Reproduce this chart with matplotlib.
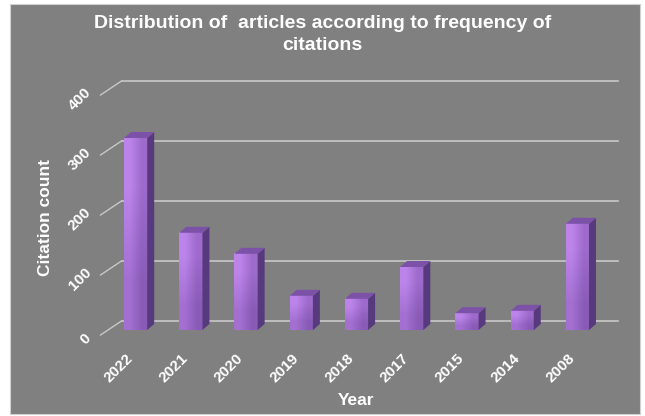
import matplotlib
matplotlib.use("Agg")
import matplotlib.pyplot as plt
import matplotlib.transforms as mtransforms
from matplotlib.patches import Polygon, Rectangle
import numpy as np

# data
years = ['2022', '2021', '2020', '2019', '2018', '2017', '2015', '2014', '2008']
citations = [320, 162, 127, 57, 52, 105, 28, 32, 177]
yticks = [0, 100, 200, 300, 400]

plt.rcParams['font.family'] = ['Liberation Sans', 'DejaVu Sans']

fig = plt.figure(figsize=(6.45, 4.16), dpi=100)
fig.patch.set_facecolor('white')
# gray chart area
fig.patches.append(Rectangle((10 / 645, 2 / 416), 630 / 645, 410 / 416, transform=fig.transFigure,
                             facecolor='#808080', edgecolor='#d0d0d0', lw=0.8, zorder=-5))

ax = fig.add_axes([108 / 645, 86 / 416, 497 / 645, 240 / 416])
ax.set_facecolor('none')
ax.set_xlim(-0.5, 8.5)
ax.set_ylim(0, 400)
for s in ax.spines.values():
    s.set_visible(False)


def off(dx, dy):
    return mtransforms.offset_copy(ax.transData, fig=fig, x=dx, y=dy, units='dots')


back = off(13.5, 9)
front = off(-7.5, -5)

# back wall grid lines and the floor/side diagonals
for v in yticks:
    ax.plot([-0.5, 8.5], [v, v], color='#c8c8c8', lw=1.2, transform=back, zorder=1, clip_on=False)
    x0, y0 = front.transform((-0.5, v))
    x1, y1 = back.transform((-0.5, v))
    ax.plot([x0, x1], [y0, y1], color='#c8c8c8', lw=1.0, transform=mtransforms.IdentityTransform(),
            zorder=1, clip_on=False)
    ax.text(-0.5, v, str(v), transform=off(-14, -9), rotation=45, ha='right', va='center',
            color='white', fontsize=11, fontweight='bold')

# 3d-looking bars
w = 0.42
px_x = ax.transData.transform((1, 0))[0] - ax.transData.transform((0, 0))[0]
px_y = ax.transData.transform((0, 1))[1] - ax.transData.transform((0, 0))[1]
ddx = 7 / px_x
ddy = 6 / px_y
grad = np.array([[[0.74, 0.52, 0.92], [0.62, 0.42, 0.80]],
                 [[0.64, 0.44, 0.82], [0.54, 0.36, 0.72]]])
for i, v in enumerate(citations):
    xl, xr = i - w / 2, i + w / 2
    ax.imshow(grad, extent=(xl, xr, 0, v), aspect='auto', interpolation='bilinear',
              origin='upper', zorder=3)
    side = Polygon([(xr, 0), (xr + ddx, ddy), (xr + ddx, v + ddy), (xr, v)],
                   closed=True, facecolor='#573a7e', edgecolor='none', zorder=3, clip_on=False)
    top = Polygon([(xl, v), (xr, v), (xr + ddx, v + ddy), (xl + ddx, v + ddy)],
                  closed=True, facecolor='#7c52a8', edgecolor='none', zorder=3, clip_on=False)
    ax.add_patch(side)
    ax.add_patch(top)

ax.set_xlim(-0.5, 8.5)
ax.set_ylim(0, 400)
ax.set_yticks([])
ax.set_xticks(range(len(years)))
ax.set_xticklabels(years, rotation=45, ha='right', color='white', fontsize=11,
                   fontweight='bold')
ax.tick_params(axis='x', length=0, pad=15)

ax.set_xlabel('Year', color='white', fontsize=12.5, fontweight='bold', labelpad=6)
fig.text(45 / 645, 1 - 217 / 416, 'Citation count', rotation=90, ha='center', va='center',
         color='white', fontsize=12.5, fontweight='bold')

fig.text(0.5, 1 - 24 / 416, 'Distribution of  articles according to frequency of',
         ha='center', va='center', color='white', fontsize=14, fontweight='bold')
fig.text(0.5, 1 - 46 / 416, 'citations',
         ha='center', va='center', color='white', fontsize=14, fontweight='bold')

fig.savefig('out.png', dpi=100, facecolor=fig.get_facecolor())
